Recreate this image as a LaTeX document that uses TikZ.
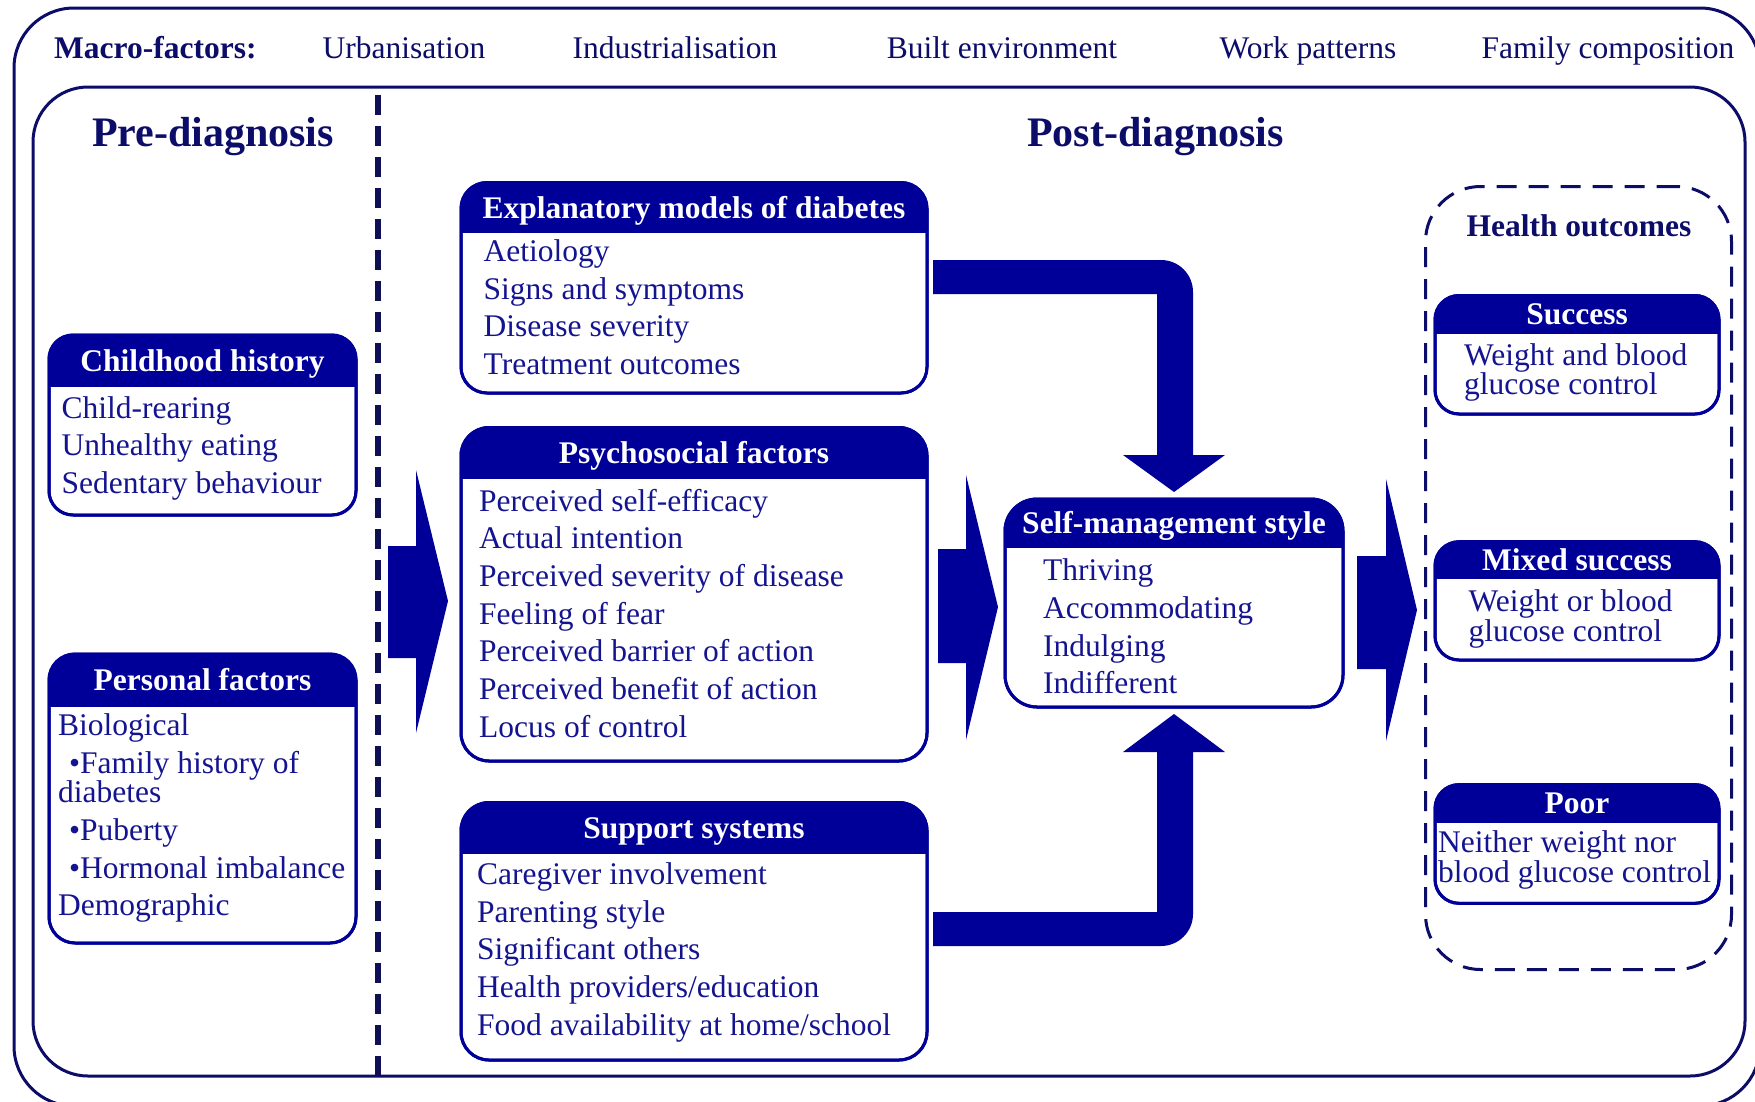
\documentclass[tikz,border=0pt]{standalone}
\usepackage{fontspec}
\setmainfont{Liberation Serif}
\usetikzlibrary{calc}

\definecolor{boxblue}{RGB}{0,0,153}
\definecolor{navy}{RGB}{12,12,105}
\definecolor{inkblue}{RGB}{20,20,145}
\definecolor{divnavy}{RGB}{15,15,85}

\tikzset{
  body/.style={font=\fontsize{31.5}{37.6}\selectfont, text=inkblue, anchor=mid west, inner sep=0pt, yshift=-8pt},
  head/.style={font=\fontsize{31.5}{37.6}\selectfont\bfseries, text=white, anchor=mid, inner sep=0pt, yshift=-8pt},
  macro/.style={font=\fontsize{31.5}{37.6}\selectfont, text=navy, anchor=mid, inner sep=0pt, yshift=-8pt},
  phase/.style={font=\fontsize{42}{50}\selectfont\bfseries, text=navy, anchor=mid, inner sep=0pt, yshift=-11pt},
  frame/.style={draw=navy, line width=3pt, anchor=north west, inner sep=0pt, outer sep=0pt},
  panelbox/.style={draw=boxblue, fill=white, line width=3pt, anchor=north west, inner sep=0pt, outer sep=0pt},
  blockarrow/.style={fill=boxblue, draw=none},
  divider/.style={draw=divnavy, line width=6pt, dash pattern=on 20pt off 11pt},
  outline/.style={draw=navy, line width=3pt, dash pattern=on 20pt off 12pt, anchor=north west, inner sep=0pt},
}

% #1 name, #2 left, #3 top, #4 right, #5 bottom, #6 bottom of the title band, #7 corner radius, #8 title
\newcommand\panel[8]{%
  \node[panelbox, rounded corners=#7, minimum width={(#4-#2)*1pt}, minimum height={(#5-#3)*1pt}] (#1) at (#2,#3) {};
  \begin{scope}
    \clip[rounded corners=#7] (#1.north west) rectangle (#1.south east);
    \fill[boxblue] (#1.north west) rectangle (#4,#6);
  \end{scope}
  \draw[boxblue, line width=3pt, rounded corners=#7] (#1.north west) rectangle (#1.south east);
  \node[head] (#1-head) at ({(#2+#4)/2},{(#3+#6)/2}) {#8};
}
\newcommand\bline[4]{\node[body] (#1) at (#2,#3) {#4};}

\begin{document}
\begin{tikzpicture}[x=1pt,y=-1pt]
\useasboundingbox[fill=white] (0,0) rectangle (1755,1101);

% frames
\node[frame, rounded corners=60pt, minimum width=1746pt, minimum height=1098pt] (outer) at (14,8) {};
\node[frame, rounded corners=55pt, minimum width=1712pt, minimum height=989pt] (inner) at (33,87) {};

% macro-factors row
\node[macro, anchor=mid west, font=\fontsize{31.5}{37.6}\selectfont\bfseries] (macro) at (54,48) {Macro-factors:};
\node[macro] (urban) at (404,48) {Urbanisation};
\node[macro] (indus) at (675,48) {Industrialisation};
\node[macro] (built) at (1002,48) {Built environment};
\node[macro] (work) at (1308,48) {Work patterns};
\node[macro] (family) at (1608,48) {Family composition};

% phase titles and divider
\node[phase] (pre) at (213,133) {Pre-diagnosis};
\node[phase] (post) at (1155.5,133) {Post-diagnosis};
\draw[divider] (378,95) -- (378,1076);

% pre-diagnosis panels
\panel{child}{49}{335}{356}{515}{387}{24pt}{Childhood history}
\bline{child-1}{61.5}{408}{Child-rearing}
\bline{child-2}{61.5}{445.5}{Unhealthy eating}
\bline{child-3}{61.5}{483.5}{Sedentary behaviour}

\panel{pers}{49}{654}{356}{943}{707}{26pt}{Personal factors}
\bline{pers-1}{58}{725}{Biological}
\bline{pers-2}{69}{763}{\textbullet Family history of}
\bline{pers-3}{58}{792.5}{diabetes}
\bline{pers-4}{69}{830.5}{\textbullet Puberty}
\bline{pers-5}{69}{868.6}{\textbullet Hormonal imbalance}
\bline{pers-6}{58}{905.5}{Demographic}

% post-diagnosis panels
\panel{expl}{461}{182.5}{927}{393}{233}{26pt}{Explanatory models of diabetes}
\bline{expl-1}{483.5}{250.7}{Aetiology}
\bline{expl-2}{483.5}{288.8}{Signs and symptoms}
\bline{expl-3}{483.5}{325.7}{Disease severity}
\bline{expl-4}{483.5}{363.8}{Treatment outcomes}

\panel{psy}{461}{427.5}{927}{761}{479}{28pt}{Psychosocial factors}
\bline{psy-1}{479}{501.4}{Perceived self-efficacy}
\bline{psy-2}{479}{538.4}{Actual intention}
\bline{psy-3}{479}{576.4}{Perceived severity of disease}
\bline{psy-4}{479}{614.5}{Feeling of fear}
\bline{psy-5}{479}{651.4}{Perceived barrier of action}
\bline{psy-6}{479}{689.5}{Perceived benefit of action}
\bline{psy-7}{479}{727.5}{Locus of control}

\panel{supp}{461}{802.5}{927}{1060}{854}{28pt}{Support systems}
\bline{supp-1}{477}{874}{Caregiver involvement}
\bline{supp-2}{477}{912}{Parenting style}
\bline{supp-3}{477}{949}{Significant others}
\bline{supp-4}{477}{987}{Health providers/education}
\bline{supp-5}{477}{1025}{Food availability at home/school}

\panel{self}{1005}{499}{1343}{707}{548}{32pt}{Self-management style}
\bline{self-1}{1043}{570}{Thriving}
\bline{self-2}{1043}{608}{Accommodating}
\bline{self-3}{1043}{646}{Indulging}
\bline{self-4}{1043}{683}{Indifferent}

% health outcomes
\node[outline, rounded corners=55pt, minimum width=306pt, minimum height=783pt] (outc) at (1424,185) {};
\node[macro, font=\fontsize{31.5}{37.6}\selectfont\bfseries] (outc-head) at (1579,226) {Health outcomes};

\panel{succ}{1435}{295.5}{1719}{414}{333.5}{24pt}{Success}
\bline{succ-1}{1464}{355}{Weight and blood}
\bline{succ-2}{1464}{384}{glucose control}

\panel{mixed}{1435}{541.7}{1719}{660}{578.7}{24pt}{Mixed success}
\bline{mixed-1}{1468.5}{601}{Weight or blood}
\bline{mixed-2}{1468.5}{631}{glucose control}

\panel{poor}{1435}{784.6}{1719}{903.3}{822.7}{24pt}{Poor}
\bline{poor-1}{1438}{842}{Neither weight nor}
\bline{poor-2}{1438}{872}{blood glucose control}

% block arrows
\fill[blockarrow] (388,546) -- (416,546) -- (416,470) -- (448,601) -- (416,733) -- (416,658) -- (388,658) -- cycle;
\fill[blockarrow] (938,549) -- (966,549) -- (966,475) -- (998,607) -- (966,740) -- (966,663) -- (938,663) -- cycle;
\fill[blockarrow] (1357,556) -- (1386,556) -- (1386,479) -- (1417,610) -- (1386,741) -- (1386,669) -- (1357,669) -- cycle;

% bent arrows into the self-management panel
\fill[blockarrow] (933,260) -- (1161,260) .. controls (1178.7,260) and (1193,274.3) .. (1193,292)
  -- (1193,455) -- (1225,455) -- (1174,492) -- (1123,455) -- (1157,455) -- (1157,294) -- (933,294) -- cycle;
\fill[blockarrow] (933,946) -- (1161,946) .. controls (1178.7,946) and (1193,931.7) .. (1193,914)
  -- (1193,752) -- (1225,752) -- (1174,714) -- (1123,752) -- (1157,752) -- (1157,912) -- (933,912) -- cycle;
\end{tikzpicture}
\end{document}
